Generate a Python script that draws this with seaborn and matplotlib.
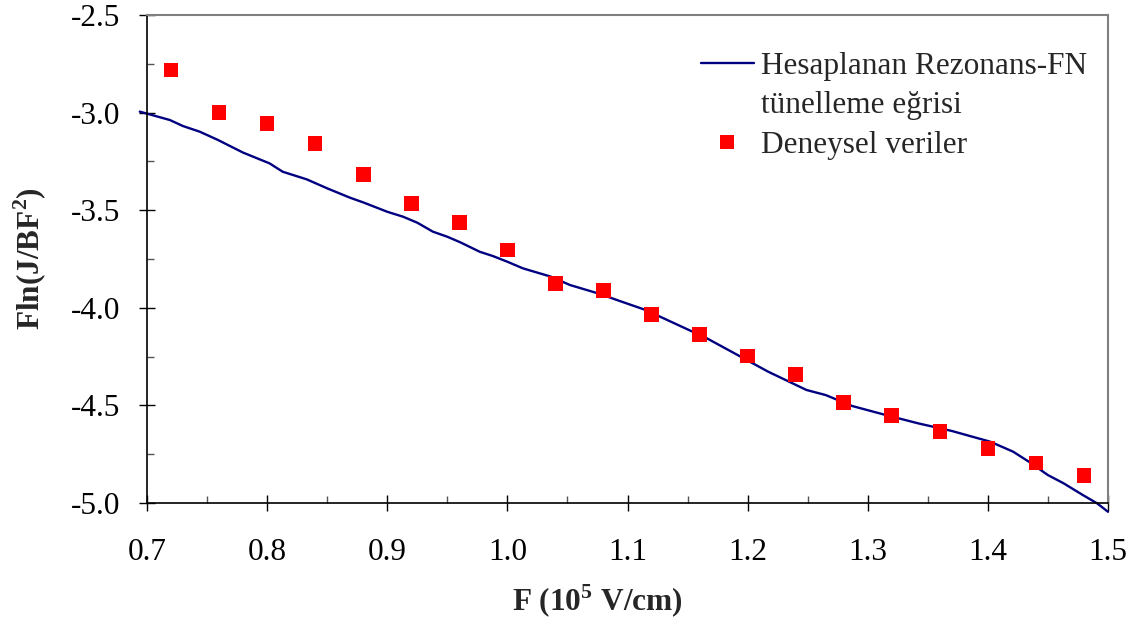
import numpy as np
import pandas as pd
import matplotlib
matplotlib.use("Agg")
import matplotlib.pyplot as plt
import seaborn as sns
from matplotlib.ticker import MultipleLocator, FormatStrFormatter
from matplotlib.lines import Line2D

# Calculated resonant FN tunnelling curve
curve_f = [0.694, 0.719, 0.730, 0.744, 0.759, 0.780, 0.802, 0.813, 0.833, 0.850,
           0.869, 0.880, 0.900, 0.913, 0.925, 0.938, 0.950, 0.961, 0.977, 0.988,
           1.000, 1.013, 1.036, 1.052, 1.077, 1.093, 1.115, 1.141, 1.166, 1.189,
           1.217, 1.249, 1.265, 1.287, 1.313, 1.342, 1.370, 1.402, 1.421, 1.434,
           1.450, 1.463, 1.479, 1.491, 1.500]
curve_fln = [-2.995, -3.038, -3.069, -3.098, -3.140, -3.205, -3.260, -3.303, -3.342, -3.388,
             -3.436, -3.460, -3.508, -3.533, -3.564, -3.610, -3.636, -3.665, -3.713, -3.735,
             -3.764, -3.798, -3.840, -3.883, -3.929, -3.964, -4.011, -4.085, -4.156, -4.233,
             -4.327, -4.421, -4.447, -4.503, -4.546, -4.592, -4.631, -4.686, -4.737, -4.788,
             -4.857, -4.899, -4.959, -5.002, -5.045]

# Experimental data
exp_f = [0.72, 0.76, 0.80, 0.84, 0.88, 0.92, 0.96, 1.00, 1.04, 1.08,
         1.12, 1.16, 1.20, 1.24, 1.28, 1.32, 1.36, 1.40, 1.44, 1.48]
exp_fln = [-2.782, -2.999, -3.055, -3.157, -3.316, -3.467, -3.562, -3.704, -3.875, -3.910,
           -4.033, -4.138, -4.248, -4.343, -4.484, -4.551, -4.635, -4.720, -4.795, -4.860]

legend_labels = ["Hesaplanan Rezonans-FN", "tünelleme eğrisi", "Deneysel veriler"]

curve_df = pd.DataFrame({"F": curve_f, "Fln": curve_fln})
exp_df = pd.DataFrame({"F": exp_f, "Fln": exp_fln})

sns.set_style("white")
plt.rcParams['font.family'] = ['Liberation Serif', 'DejaVu Serif']
plt.rcParams['mathtext.fontset'] = 'custom'
plt.rcParams['mathtext.rm'] = 'Liberation Serif'
plt.rcParams['mathtext.bf'] = 'Liberation Serif:bold'
plt.rcParams['axes.unicode_minus'] = False

line_color = '#000080'
marker_color = '#FF0000'
fs = 22.5

fig = plt.figure(figsize=(11.38, 6.19), dpi=100)
ax = fig.add_axes([147 / 1138, 1 - 503 / 619, (1108 - 147) / 1138, (503 - 15) / 619])

sns.lineplot(data=curve_df, x="F", y="Fln", ax=ax, color=line_color, lw=1.7,
             sort=False, zorder=2, clip_on=False)
sns.scatterplot(data=exp_df, x="F", y="Fln", ax=ax, marker='s', s=110,
                color=marker_color, edgecolor='none', linewidth=0, zorder=3)

ax.set_xlim(0.7, 1.5)
ax.set_ylim(-5.0, -2.5)
ax.xaxis.set_major_locator(MultipleLocator(0.1))
ax.xaxis.set_minor_locator(MultipleLocator(0.05))
ax.yaxis.set_major_locator(MultipleLocator(0.5))
ax.yaxis.set_minor_locator(MultipleLocator(0.25))
ax.xaxis.set_major_formatter(FormatStrFormatter('%.1f'))
ax.yaxis.set_major_formatter(FormatStrFormatter('%.1f'))

ax.tick_params(axis='both', which='major', direction='inout', length=12, width=1,
               color='black', labelsize=fs, labelcolor='black')
ax.tick_params(axis='x', which='major', pad=19)
ax.tick_params(axis='y', which='major', pad=13.5)
ax.tick_params(axis='both', which='minor', direction='in', length=5, width=1, color='#555555')
ax.tick_params(axis='x', which='both', bottom=True, top=False)
ax.tick_params(axis='y', which='both', left=True, right=False)

for side in ['left', 'bottom']:
    ax.spines[side].set_color('black')
    ax.spines[side].set_linewidth(1.2)
for side in ['top', 'right']:
    ax.spines[side].set_color('#808080')
    ax.spines[side].set_linewidth(1.5)

ax.set_xlabel('F (10$^{\\mathbf{5}}$ V/cm)', fontsize=fs, fontweight='bold')
ax.set_ylabel('Fln(J/BF$^{\\mathbf{2}}$)', fontsize=fs, fontweight='bold')
ax.xaxis.set_label_coords(0.469, -0.163)
ax.yaxis.set_label_coords(-0.102, 0.5)

handles = [
    Line2D([], [], color=line_color, lw=1.7),
    Line2D([], [], color='none'),
    Line2D([], [], color=marker_color, marker='s', markersize=10.5, linestyle='none',
           markeredgewidth=0),
]
ax.legend(handles, legend_labels, loc='upper left', bbox_to_anchor=(0.563, 0.95),
          frameon=False, fontsize=fs, handlelength=1.7, handletextpad=0.22,
          labelspacing=0.33, borderaxespad=0)

fig.savefig('out.png', dpi=100)
